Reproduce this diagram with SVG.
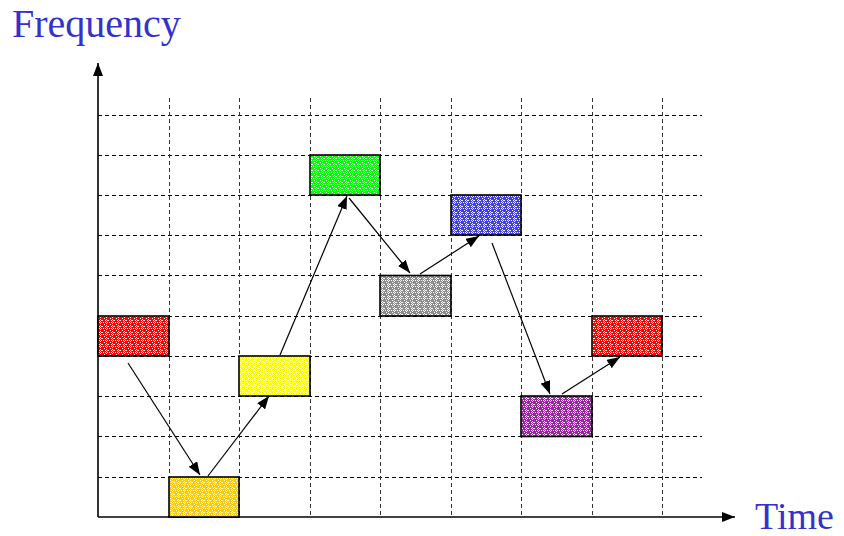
<svg xmlns="http://www.w3.org/2000/svg" xmlns:xlink="http://www.w3.org/1999/xlink" width="844" height="536" viewBox="0 0 844 536">
<style>
.lbl{font-family:"Liberation Serif","Times New Roman",serif;fill:#3333CC}
.hg{stroke:#000;stroke-width:1;stroke-dasharray:4 3;fill:none;shape-rendering:crispEdges}
.vg{stroke:#333;stroke-width:1;stroke-dasharray:4 3;fill:none;shape-rendering:crispEdges}
.blk{stroke:#000;stroke-width:1.6}
.con{stroke:#000;stroke-width:1.2;fill:none;marker-end:url(#ah)}
.ax{stroke:#000;stroke-width:1.6;fill:none;marker-end:url(#axh)}
</style>
<defs>
<marker id="ah" markerUnits="userSpaceOnUse" markerWidth="13" markerHeight="10" refX="13" refY="5" orient="auto"><path d="M0,0 L13,5 L0,10 z" fill="#000"/></marker>
<marker id="axh" markerUnits="userSpaceOnUse" markerWidth="13" markerHeight="10" refX="13" refY="5" orient="auto"><path d="M0,0 L13,5 L0,10 z" fill="#000"/></marker>
<path id="chk" fill="#fff" d="M3,2h1v1h-1zM5,2h1v1h-1zM4,3h1v1h-1zM3,4h1v1h-1zM5,4h1v1h-1zM4,5h1v1h-1zM1,4h1v1h-1zM0,2h1v1h-1zM2,0h1v1h-1zM4,1h1v1h-1z"/>
<pattern id="pRed" patternUnits="userSpaceOnUse" width="6" height="6"><rect width="6" height="6" fill="#FF0000"/><use xlink:href="#chk"/></pattern>
<pattern id="pGold" patternUnits="userSpaceOnUse" width="6" height="6"><rect width="6" height="6" fill="#FFCC00"/><use xlink:href="#chk"/></pattern>
<pattern id="pYel" patternUnits="userSpaceOnUse" width="6" height="6"><rect width="6" height="6" fill="#FFFF00"/><use xlink:href="#chk"/></pattern>
<pattern id="pGrn" patternUnits="userSpaceOnUse" width="6" height="6"><rect width="6" height="6" fill="#00FF00"/><use xlink:href="#chk"/></pattern>
<pattern id="pGry" patternUnits="userSpaceOnUse" width="6" height="6"><rect width="6" height="6" fill="#8C8C8C"/><use xlink:href="#chk"/></pattern>
<pattern id="pBlu" patternUnits="userSpaceOnUse" width="6" height="6"><rect width="6" height="6" fill="#4040E0"/><use xlink:href="#chk"/></pattern>
<pattern id="pMag" patternUnits="userSpaceOnUse" width="6" height="6"><rect width="6" height="6" fill="#A020A8"/><use xlink:href="#chk"/></pattern>
</defs>
<rect width="844" height="536" fill="#fff"/>
<g id="grid">
<path class="hg" d="M98,115H702M98,155H702M98,195H702M98,235H702M98,275.5H702M98,316H702M98,356H702M98,396H702M98,436.5H702M98,477H702"/>
<path class="vg" d="M169,98V517M239,98V517M310,98V517M380,98V517M451,98V517M521,98V517M592,98V517M662,98V517"/>
</g>
<g id="axes">
<line class="ax" x1="98" y1="517" x2="98" y2="63"/>
<line class="ax" x1="98" y1="517" x2="735" y2="517"/>
</g>
<text id="ylabel" class="lbl" x="12" y="37" font-size="40">Frequency</text>
<text id="xlabel" class="lbl" x="755" y="529" font-size="38">Time</text>
<g id="n1"><rect class="blk" x="98" y="316" width="71" height="40" fill="url(#pRed)"/></g>
<g id="n2"><rect class="blk" x="169" y="477" width="70" height="40" fill="url(#pGold)"/></g>
<g id="n3"><rect class="blk" x="239" y="356" width="71" height="40" fill="url(#pYel)"/></g>
<g id="n4"><rect class="blk" x="310" y="155" width="70" height="40" fill="url(#pGrn)"/></g>
<g id="n5"><rect class="blk" x="380" y="275.5" width="71" height="40.5" fill="url(#pGry)"/></g>
<g id="n6"><rect class="blk" x="451" y="195" width="70" height="40" fill="url(#pBlu)"/></g>
<g id="n7"><rect class="blk" x="521" y="396" width="71" height="40.5" fill="url(#pMag)"/></g>
<g id="n8"><rect class="blk" x="592" y="316" width="70" height="40" fill="url(#pRed)"/></g>
<g id="connectors">
<line class="con" x1="128" y1="363" x2="200" y2="475"/>
<line class="con" x1="208" y1="476" x2="269" y2="396"/>
<line class="con" x1="280" y1="355" x2="347" y2="196"/>
<line class="con" x1="349" y1="198" x2="410" y2="273"/>
<line class="con" x1="420" y1="274" x2="479" y2="236"/>
<line class="con" x1="492" y1="243" x2="550" y2="394"/>
<line class="con" x1="562" y1="394" x2="620" y2="357"/>
</g>
</svg>
